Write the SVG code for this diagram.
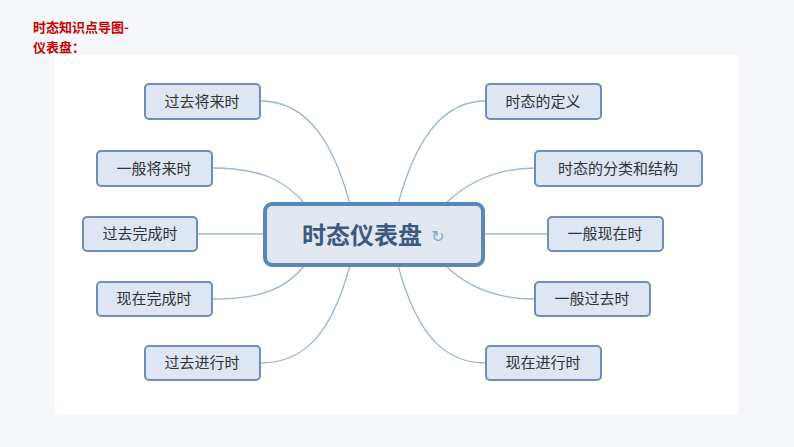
<svg xmlns="http://www.w3.org/2000/svg" width="794" height="447" viewBox="0 0 794 447">
<style>
.n rect{fill:#dde6f2;stroke:#6d8fb3;stroke-width:2}
.n text{font-family:"Noto Sans CJK SC",sans-serif;font-size:15px;fill:#333;text-anchor:middle}
#conn path{fill:none;stroke:#9fb6c8;stroke-width:1.3}
.t{font-family:"Noto Sans CJK SC",sans-serif;font-size:13px;font-weight:bold;fill:#cc0000}
</style>
<rect width="794" height="447" fill="#f5f7fa"/>
<rect x="55" y="55" width="683" height="359" fill="#fff"/>
<text class="t" x="33" y="32">时态知识点导图-</text>
<text class="t" x="33" y="52">仪表盘：</text>
<g id="conn">
<path d="M350,204 C330,130 300,101 260,101"/>
<path d="M305,204 C285,180 260,168 212,168"/>
<path d="M265,234 L197,234"/>
<path d="M305,265 C285,290 260,299 212,299"/>
<path d="M350,265 C330,340 300,363 260,363"/>
<path d="M398,204 C418,130 448,101 486,101"/>
<path d="M445,204 C470,180 500,168 535,168"/>
<path d="M483,234 L548,234"/>
<path d="M445,265 C470,290 500,299 535,299"/>
<path d="M398,265 C418,340 448,363 486,363"/>
</g>
<g id="center"><rect x="265" y="204" width="218" height="61" rx="7" fill="#e2e8f2" stroke="#5a87b8" stroke-width="4"/>
<text x="362" y="244" font-family="'Noto Sans CJK SC',sans-serif" font-size="24" font-weight="bold" fill="#3b5a7d" text-anchor="middle">时态仪表盘</text>
<text x="438" y="242" font-family="'DejaVu Sans',sans-serif" font-size="16" fill="#7fa7cc" text-anchor="middle">↻</text></g>
<g id="n1" class="n"><rect x="145" y="84" width="115" height="35" rx="4"/><text x="202" y="107">过去将来时</text></g>
<g id="n2" class="n"><rect x="97" y="151" width="115" height="35" rx="4"/><text x="154" y="174">一般将来时</text></g>
<g id="n3" class="n"><rect x="83" y="217" width="114" height="34" rx="4"/><text x="140" y="239">过去完成时</text></g>
<g id="n4" class="n"><rect x="97" y="282" width="115" height="34" rx="4"/><text x="154" y="304">现在完成时</text></g>
<g id="n5" class="n"><rect x="145" y="346" width="115" height="34" rx="4"/><text x="202" y="368">过去进行时</text></g>
<g id="n6" class="n"><rect x="486" y="84" width="115" height="35" rx="4"/><text x="543" y="107">时态的定义</text></g>
<g id="n7" class="n"><rect x="535" y="151" width="167" height="35" rx="4"/><text x="618" y="174">时态的分类和结构</text></g>
<g id="n8" class="n"><rect x="548" y="217" width="115" height="34" rx="4"/><text x="605" y="239">一般现在时</text></g>
<g id="n9" class="n"><rect x="535" y="282" width="115" height="34" rx="4"/><text x="592" y="304">一般过去时</text></g>
<g id="n10" class="n"><rect x="486" y="346" width="115" height="34" rx="4"/><text x="543" y="368">现在进行时</text></g>
</svg>
